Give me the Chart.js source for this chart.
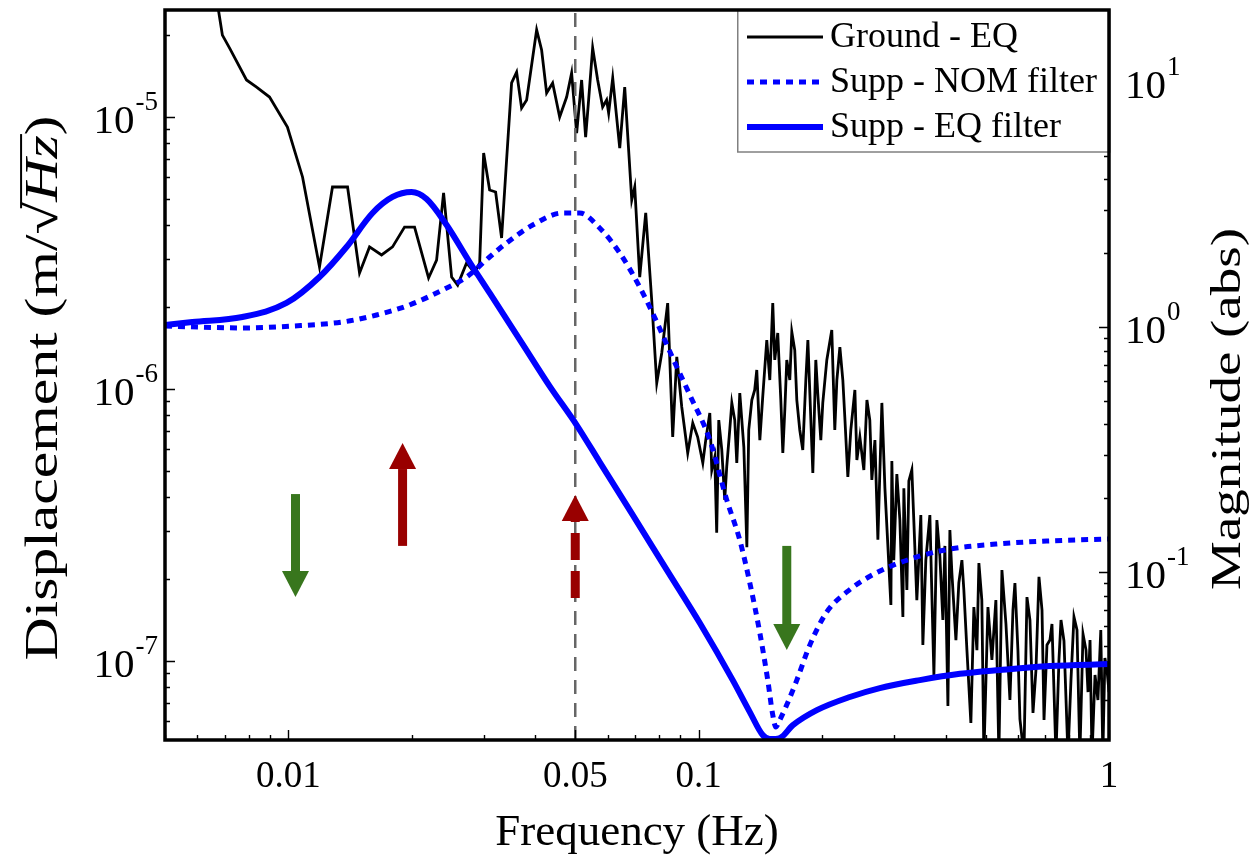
<!DOCTYPE html>
<html>
<head>
<meta charset="utf-8">
<script src="https://cdn.jsdelivr.net/npm/chart.js@4.4.1/dist/chart.umd.min.js"></script>
<style>
html,body{margin:0;padding:0;background:#fff;}
#wrap{width:1252px;height:863px;position:relative;}
canvas{display:block;}
</style>
</head>
<body>
<div id="wrap"><canvas id="c" width="1252" height="863"></canvas></div>
<script>
const FONT = '"Liberation Serif", "Times New Roman", Times, serif';

// ---------- data ----------
const groundFreq = [
0.00513,0.00607,0.00675,0.00690,0.00718,0.00790,0.00836,0.00899,0.00994,0.01082,
0.01190,0.01280,0.01393,0.01490,0.01576,0.01686,0.01793,0.01918,0.02029,0.02195,
0.02296,0.02388,0.02498,0.02584,0.02718,0.02843,0.02924,0.02990,0.03092,0.03198,
0.03307,0.03401,0.03498,0.03598,0.03700,0.03806,0.04026,0.04140,0.04258,0.04404,
0.04581,0.04764,0.04899,0.05039,0.05182,0.05300,0.05390,0.05513,0.05670,0.05831,
0.05963,0.06031,0.06170,0.06418,0.06600,0.06866,0.06982,0.07180,0.07426,0.07680,
0.07900,0.08125,0.08400,0.08640,0.08840,0.09090,0.09400,0.09670,0.09940,0.1023,
0.1040,0.1064,0.1076,0.1094,0.1106,0.1119,0.1138,0.1157,0.1170,0.1190,
0.1204,0.1224,0.1238,0.1259,0.1288,0.1310,0.1324,0.1347,0.1369,0.1385,
0.1409,0.1432,0.1465,0.1490,0.1515,0.1532,0.1558,0.1585,0.1603,0.1621,
0.1639,0.1667,0.1686,0.1714,0.1734,0.1763,0.1793,0.1824,0.1845,0.1876,
0.1897,0.1929,0.1950,0.1984,0.2006,0.2052,0.2110,0.2146,0.2171,0.2208,
0.2245,0.2270,0.2309,0.2348,0.2402,0.2429,0.2470,0.2526,0.2570,0.2612,
0.2642,0.2688,0.2733,0.2795,0.2843,0.2940,0.2956,0.2988,0.3040,0.3092,
0.3145,0.3162,0.3216,0.3252,0.3307,0.3345,0.3401,0.3478,0.3518,0.3577,
0.3659,0.3743,0.3806,0.3870,0.3936,0.3981,0.4049,0.4094,0.4140,0.4235,
0.4305,0.4380,0.4428,0.4505,0.4606,0.4684,0.4765,0.4818,0.4898,0.4955,
0.5069,0.5183,0.5300,0.5390,0.5483,0.5608,0.5735,0.5833,0.5898,0.5998,
0.6066,0.6204,0.6310,0.6417,0.6527,0.6637,0.6750,0.6866,0.6944,0.7060,
0.7178,0.7261,0.7425,0.7551,0.7638,0.7767,0.7943,0.8078,0.8215,0.8356,
0.8492,0.8643,0.8790,0.8889,0.8990,0.9090,0.9245,0.9397,0.9550,0.9660,
0.9772,0.9888,1.0];
const groundDisp = [
9.6e-5,3.78e-5,2.47e-5,2.0e-5,1.795e-5,1.368e-5,1.288e-5,1.184e-5,9.19e-6,6.02e-6,
2.81e-6,5.53e-6,5.53e-6,2.67e-6,3.33e-6,3.11e-6,3.33e-6,3.94e-6,3.94e-6,2.56e-6,
2.98e-6,5.26e-6,2.58e-6,2.41e-6,2.91e-6,2.67e-6,2.91e-6,7.37e-6,5.39e-6,5.30e-6,
3.59e-6,6.95e-6,1.334e-5,1.463e-5,1.079e-5,1.155e-5,2.09e-5,1.763e-5,1.225e-5,1.334e-5,
1.0e-5,1.184e-5,1.451e-5,8.73e-6,1.368e-5,8.44e-6,1.155e-5,1.795e-5,1.368e-5,1.088e-5,
1.155e-5,1.034e-5,1.391e-5,7.69e-6,1.288e-5,4.95e-6,5.53e-6,2.58e-6,4.44e-6,2.12e-6,
1.052e-6,1.357e-6,2.07e-6,6.66e-7,1.312e-6,8.59e-7,5.82e-7,7.50e-7,6.66e-7,5.35e-7,
6.49e-7,8.16e-7,5.04e-7,5.62e-7,2.96e-7,7.69e-7,5.97e-7,3.91e-7,5.17e-7,7.07e-7,
8.89e-7,7.69e-7,5.35e-7,9.67e-7,6.12e-7,2.62e-7,7.07e-7,9.11e-7,9.92e-7,1.175e-6,
6.49e-7,9.35e-7,1.514e-6,1.079e-6,2.07e-6,1.279e-6,1.607e-6,9.11e-7,5.82e-7,8.37e-7,
1.279e-6,1.079e-6,1.622e-6,1.391e-6,9.11e-7,7.07e-7,5.97e-7,1.079e-6,1.514e-6,7.69e-7,
4.91e-7,1.279e-6,9.67e-7,6.49e-7,8.89e-7,1.279e-6,1.648e-6,7.07e-7,1.079e-6,1.427e-6,
1.079e-6,7.89e-7,4.75e-7,7.07e-7,9.92e-7,5.48e-7,6.66e-7,5.04e-7,9.11e-7,7.69e-7,
4.63e-7,6.49e-7,2.79e-7,8.89e-7,4.32e-7,1.607e-7,5.44e-7,2.35e-7,4.87e-7,3.30e-7,
1.452e-7,4.32e-7,1.824e-7,4.59e-7,5.04e-7,3.24e-7,1.675e-7,3.44e-7,1.146e-7,2.35e-7,
3.44e-7,8.89e-8,3.30e-7,2.43e-7,1.415e-7,2.65e-7,6.84e-8,3.03e-7,2.11e-7,1.194e-7,
1.936e-7,2.35e-7,1.824e-7,1.097e-7,5.92e-8,1.58e-7,1.097e-7,2.29e-7,1.675e-7,4.5e-8,
1.58e-7,1.009e-7,1.675e-7,4.5e-8,2.16e-7,1.368e-7,7.19e-8,1.54e-7,1.936e-7,1.097e-7,
6.12e-8,4.5e-8,1.718e-7,1.415e-7,6.44e-8,9.27e-8,2.04e-7,1.54e-7,6.07e-8,1.146e-7,
1.194e-7,1.368e-7,4.5e-8,1.009e-7,1.415e-7,1.185e-7,4.5e-8,8.51e-8,1.452e-7,1.30e-7,
4.5e-8,1.257e-7,1.097e-7,7.69e-8,1.194e-7,4.5e-8,8.89e-8,7.19e-8,1.30e-7,4.5e-8,
1.026e-7,9.27e-8,7.69e-8];

const nomFreq = [0.005,0.00772,0.01023,0.01354,0.01639,0.01973,0.02375,0.02718,0.03092,0.03401,
0.03937,0.04659,0.05125,0.05735,0.06418,0.0718,0.0790,0.0864,0.0951,0.1064,
0.1170,0.1259,0.1332,0.1409,0.1473,0.1515,0.1541,0.1576,0.1639,0.1734,
0.1866,0.2052,0.2296,0.2570,0.2988,0.3981,0.530,0.7060,1.0];
const nomMag = [1.009,0.991,1.009,1.048,1.119,1.230,1.416,1.600,1.931,2.203,
2.608,2.920,2.920,2.535,2.005,1.456,1.048,0.747,0.528,0.346,
0.197,0.135,0.0902,0.0564,0.0362,0.0261,0.0233,0.0249,0.0287,0.0362,
0.0504,0.0687,0.0829,0.0945,0.1069,0.123,0.130,0.1338,0.1364];

const eqFreq = [0.005,0.00583,0.00772,0.00989,0.0119,0.01385,0.01603,0.01793,0.01995,0.02171,
0.02429,0.02763,0.03092,0.03721,0.0433,0.05039,0.05735,0.06902,0.08356,0.1006,
0.1210,0.1332,0.1432,0.1490,0.1576,0.1696,0.1940,0.2335,0.2763,0.3459,
0.4330,0.5420,0.7178,1.0];
const eqMag = [1.019,1.048,1.099,1.253,1.600,2.121,2.920,3.394,3.556,3.331,
2.608,1.842,1.377,0.852,0.574,0.398,0.281,0.171,0.102,0.0619,
0.0362,0.0268,0.0216,0.0208,0.0210,0.0237,0.0273,0.0309,0.0336,0.0362,
0.0384,0.0398,0.0413,0.0421];

const markerFreq = 0.05;                 // vertical dashed reference line
const xTickValues = [0.01, 0.05, 0.1, 1];
const xTickLabels = ['0.01', '0.05', '0.1', '1'];
const yLeftTickExps = [-5, -6, -7];
const yRightTickExps = [1, 0, -1];
const xRange = [0.005, 1];
const yLeftRange = [5.125e-8, 2.474e-5];
const yRightRange = [0.02062, 19.67];

// annotation arrows (data space: frequency, displacement)
const arrowFreq = [0.0104, 0.01897, 0.05, 0.1639];
const arrowFrom = [4.11e-7, 2.65e-7, 1.705e-7, 2.65e-7];
const arrowTo   = [1.718e-7, 6.33e-7, 4.08e-7, 1.097e-7];
const arrowKind = ['green', 'red', 'redDashed', 'green'];

const seriesLabels = ['Ground - EQ', 'Supp - NOM filter', 'Supp - EQ filter'];
const xTitle = 'Frequency (Hz)';
const yRightTitle = 'Magnitude (abs)';

// ---------- helpers ----------
const pts = (xs, ys) => xs.map((x, i) => ({x: x, y: ys[i]}));
const BLUE = '#0000ff';

function logTicks(min, max) {
  const out = [];
  for (let d = Math.floor(Math.log10(min)); d <= Math.ceil(Math.log10(max)); d++) {
    for (let m = 1; m <= 9; m++) {
      const v = m * Math.pow(10, d);
      if (v >= min * 0.9999 && v <= max * 1.0001) out.push({v: v, major: m === 1});
    }
  }
  return out;
}

function supLabel(ctx, exp, x, y, align) {
  const base = '10', sup = String(exp);
  const fb = '41px ' + FONT, fsu = '27px ' + FONT;
  ctx.font = fb;
  const wb = ctx.measureText(base).width;
  ctx.font = fsu;
  const ws = ctx.measureText(sup).width;
  const x0 = align === 'right' ? x - wb - ws - 1 : x;
  ctx.textAlign = 'left';
  ctx.textBaseline = 'middle';
  ctx.fillStyle = '#000';
  ctx.font = fb;
  ctx.fillText(base, x0, y + 5);
  ctx.font = fsu;
  ctx.fillText(sup, x0 + wb + 1, y - 14);
}

function drawArrow(ctx, x, yTail, yTip, color, dashed) {
  const dir = yTip < yTail ? -1 : 1;
  const headLen = 26, headW = 27, shaftW = 9;
  const yBase = yTip - dir * headLen;
  ctx.save();
  ctx.fillStyle = color;
  ctx.strokeStyle = color;
  ctx.lineWidth = shaftW;
  ctx.lineCap = 'butt';
  if (dashed) ctx.setLineDash([27, 11]);
  ctx.beginPath();
  ctx.moveTo(x, yTail);
  ctx.lineTo(x, yBase);
  ctx.stroke();
  ctx.setLineDash([]);
  ctx.beginPath();
  ctx.moveTo(x - headW / 2, yBase);
  ctx.lineTo(x + headW / 2, yBase);
  ctx.lineTo(x, yTip);
  ctx.closePath();
  ctx.fill();
  ctx.restore();
}

// rotated (bottom-to-top) title, stretched along its reading direction to a target length
function drawVerticalTitle(ctx, parts, cx, cy, targetLen, overlineFrom) {
  const widths = parts.map(p => { ctx.font = p[1]; return ctx.measureText(p[0]).width; });
  const W = widths.reduce((s, w) => s + w, 0);
  const s = targetLen / W;
  ctx.save();
  ctx.translate(cx, cy);
  ctx.rotate(-Math.PI / 2);
  ctx.scale(s, 1);
  ctx.fillStyle = '#000';
  ctx.strokeStyle = '#000';
  ctx.textAlign = 'left';
  ctx.textBaseline = 'middle';
  let x = -W / 2;
  const xs = [];
  parts.forEach((p, i) => { ctx.font = p[1]; xs.push(x); ctx.fillText(p[0], x, 0); x += widths[i]; });
  if (overlineFrom != null) {
    const i = overlineFrom;
    ctx.font = parts[i][1];
    const m = ctx.measureText(parts[i][0]);
    const yTop = -m.actualBoundingBoxAscent + 1;
    ctx.lineWidth = 2;
    ctx.beginPath();
    ctx.moveTo(xs[i] + widths[i] * 0.8, yTop);
    ctx.lineTo(xs[i + 1] + widths[i + 1] + 1, yTop);
    ctx.stroke();
  }
  ctx.restore();
}

const decor = {
  id: 'decor',
  afterDatasetsDraw(chart) {
    const ctx = chart.ctx, sx = chart.scales.x, sy = chart.scales.y;
    const colors = {green: '#38761d', red: '#990000', redDashed: '#990000'};
    arrowFreq.forEach((f, i) => {
      drawArrow(ctx, sx.getPixelForValue(f), sy.getPixelForValue(arrowFrom[i]),
        sy.getPixelForValue(arrowTo[i]), colors[arrowKind[i]], arrowKind[i] === 'redDashed');
    });
  },
  afterDraw(chart) {
    const ctx = chart.ctx, a = chart.chartArea;
    const sx = chart.scales.x, sy = chart.scales.y, sr = chart.scales.y1;
    ctx.save();
    // inward tick marks
    ctx.strokeStyle = '#000';
    ctx.lineWidth = 1.4;
    ctx.beginPath();
    logTicks(sx.min, sx.max).forEach(t => {
      const p = Math.round(sx.getPixelForValue(t.v)) + 0.5;
      const L = (t.major || Math.abs(t.v - 0.05) < 1e-9) ? 10 : 5;
      ctx.moveTo(p, a.bottom); ctx.lineTo(p, a.bottom - L);
    });
    logTicks(sy.min, sy.max).forEach(t => {
      const p = Math.round(sy.getPixelForValue(t.v)) + 0.5;
      const L = t.major ? 10 : 5;
      ctx.moveTo(a.left, p); ctx.lineTo(a.left + L, p);
    });
    logTicks(sr.min, sr.max).forEach(t => {
      const p = Math.round(sr.getPixelForValue(t.v)) + 0.5;
      const L = t.major ? 10 : 5;
      ctx.moveTo(a.right, p); ctx.lineTo(a.right - L, p);
    });
    ctx.stroke();

    // legend box
    const lx = 737, ly = a.top, lw = a.right - 737, lh = 142;
    ctx.fillStyle = '#fff';
    ctx.fillRect(lx, ly, lw, lh);
    ctx.strokeStyle = '#808080';
    ctx.lineWidth = 1.5;
    ctx.strokeRect(lx + 0.75, ly, lw, lh);
    const rows = [27, 72, 117];
    const ds = chart.data.datasets;
    [0, 1, 2].forEach((k, i) => {
      const d = ds.find(s => s.label === seriesLabels[k]);
      const yy = ly + rows[i];
      ctx.save();
      ctx.strokeStyle = d.borderColor;
      ctx.lineWidth = d.borderWidth;
      ctx.setLineDash(d.borderDash || []);
      ctx.beginPath();
      ctx.moveTo(747, yy); ctx.lineTo(823, yy);
      ctx.stroke();
      ctx.restore();
      ctx.fillStyle = '#000';
      ctx.font = '36px ' + FONT;
      ctx.textAlign = 'left';
      ctx.textBaseline = 'middle';
      ctx.fillText(seriesLabels[k], 830, yy + 1);
    });

    // frame
    ctx.strokeStyle = '#000';
    ctx.lineWidth = 3.5;
    ctx.setLineDash([]);
    ctx.strokeRect(a.left, a.top, a.right - a.left, a.bottom - a.top);

    // y tick labels with superscripts
    yLeftTickExps.forEach(e => supLabel(ctx, e, a.left - 7, sy.getPixelForValue(Math.pow(10, e)), 'right'));
    yRightTickExps.forEach(e => supLabel(ctx, e, a.right + 16, sr.getPixelForValue(Math.pow(10, e)), 'left'));

    // axis titles on the y sides (read bottom to top)
    const reg = '46px ' + FONT, ita = 'italic 46px ' + FONT;
    drawVerticalTitle(ctx, [['Displacement (m/', reg], ['\u221A', reg], ['Hz', ita], [')', reg]],
      45, 388, 545, 1);
    drawVerticalTitle(ctx, [[yRightTitle, '43px ' + FONT]], 1229, 409, 362, null);
    ctx.restore();
  }
};

new Chart(document.getElementById('c'), {
  type: 'line',
  data: {
    datasets: [
      {label: seriesLabels[2], data: pts(eqFreq, eqMag), yAxisID: 'y1', borderColor: BLUE, borderWidth: 6,
       pointRadius: 0, cubicInterpolationMode: 'monotone', order: 0, clip: 0},
      {label: seriesLabels[1], data: pts(nomFreq, nomMag), yAxisID: 'y1', borderColor: BLUE, borderWidth: 5,
       borderDash: [7, 6], pointRadius: 0, cubicInterpolationMode: 'monotone', order: 1, clip: 0},
      {label: 'marker', data: [{x: markerFreq, y: yLeftRange[0]}, {x: markerFreq, y: yLeftRange[1]}], yAxisID: 'y',
       borderColor: '#666666', borderWidth: 2.5, borderDash: [14, 9], pointRadius: 0, order: 2, clip: 0},
      {label: seriesLabels[0], data: pts(groundFreq, groundDisp), yAxisID: 'y', borderColor: '#000000', borderWidth: 2.8,
       pointRadius: 0, tension: 0, order: 3, clip: 0}
    ]
  },
  options: {
    responsive: false,
    animation: false,
    devicePixelRatio: 1,
    layout: {padding: {top: 10, left: 0, right: 0, bottom: 0}},
    plugins: {legend: {display: false}, tooltip: {enabled: false}},
    scales: {
      x: {
        type: 'logarithmic', position: 'bottom', min: xRange[0], max: xRange[1],
        afterBuildTicks: s => { s.ticks = xTickValues.map(v => ({value: v})); },
        ticks: {autoSkip: false, maxRotation: 0, padding: 15, color: '#000',
          font: {family: FONT, size: 37},
          callback: v => { const i = xTickValues.indexOf(v); return i >= 0 ? xTickLabels[i] : ''; }},
        grid: {display: false, drawTicks: false},
        border: {display: false},
        title: {display: true, text: xTitle, color: '#000', font: {family: FONT, size: 45},
          padding: {top: 0, bottom: 3}},
        afterFit: s => { s.height = 123; }
      },
      y: {
        type: 'logarithmic', position: 'left', min: yLeftRange[0], max: yLeftRange[1],
        ticks: {display: false},
        grid: {display: false, drawTicks: false},
        border: {display: false},
        afterFit: s => { s.width = 165; }
      },
      y1: {
        type: 'logarithmic', position: 'right', min: yRightRange[0], max: yRightRange[1],
        ticks: {display: false},
        grid: {display: false, drawTicks: false},
        border: {display: false},
        afterFit: s => { s.width = 143; }
      }
    }
  },
  plugins: [decor]
});
</script>
</body>
</html>
